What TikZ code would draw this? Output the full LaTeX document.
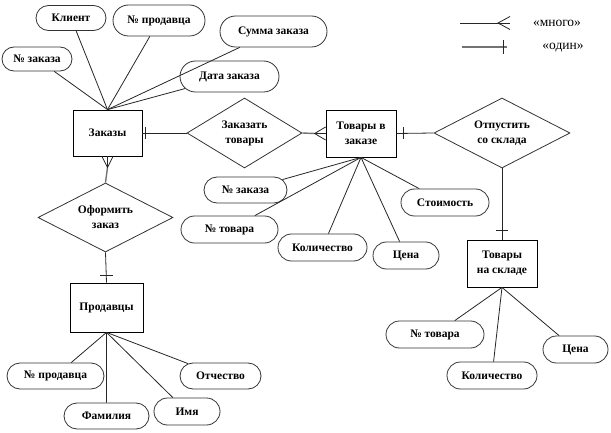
\documentclass[tikz,border=0pt]{standalone}
\usepackage{fontspec}
\setmainfont{Liberation Serif}
\usetikzlibrary{shapes.geometric,shapes.misc}
\begin{document}
\begin{tikzpicture}[x=1pt,y=-1pt,
  lbl/.style={font=\fontsize{11.5}{15}\selectfont\bfseries},
  attr/.style={rounded rectangle, draw=black!80, line width=0.8pt, inner sep=0pt, lbl, minimum height=27pt},
  ent/.style={rectangle, draw=black, line width=0.8pt, inner sep=0pt, lbl, align=center},
  rel/.style={diamond, draw=black!80, line width=0.8pt, inner sep=0pt, aspect=2, lbl, align=center},
  con/.style={draw=black!85, line width=0.8pt},
  gcon/.style={draw=black!55, line width=1.4pt},
  leg/.style={font=\fontsize{13.5}{15}\selectfont}
]
\useasboundingbox (0,0) rectangle (611,433);

% entities
\node[ent, minimum width=69pt, minimum height=46pt] (zak) at (107.5,133) {Заказы};
\node[ent, minimum width=70pt, minimum height=47pt] (tvz) at (361,133.5) {Товары в\\заказе};
\node[ent, minimum width=70pt, minimum height=47pt] (tns) at (502,263.5) {Товары\\на складе};
\node[ent, minimum width=73pt, minimum height=49pt] (prod) at (106.5,307.5) {Продавцы};

% relationships
\node[rel, minimum width=115pt, minimum height=70pt] (zt) at (244.5,133) {Заказать\\товары};
\node[rel, minimum width=136pt, minimum height=70pt] (ots) at (502,133) {Отпустить\\со склада};
\node[rel, minimum width=135pt, minimum height=69pt] (ofz) at (105.5,217.5) {Оформить\\заказ};

% attributes of Заказы
\node[attr, minimum width=70pt, minimum height=25pt] (a1) at (71,18) {Клиент};
\node[attr, minimum width=92pt, minimum height=31pt] (a2) at (159,20.5) {№ продавца};
\node[attr, minimum width=107pt, minimum height=31pt] (a3) at (273.5,31.5) {Сумма заказа};
\node[attr, minimum width=70pt, minimum height=24pt] (a4) at (37,59) {№ заказа};
\node[attr, minimum width=99pt, minimum height=31pt] (a5) at (229.5,76.5) {Дата заказа};

% attributes of Товары в заказе
\node[attr, minimum width=83pt, minimum height=26pt] (b1) at (245.5,190) {№ заказа};
\node[attr, minimum width=97pt] (b2) at (229.5,229.5) {№ товара};
\node[attr, minimum width=89pt] (b3) at (322.5,247.5) {Количество};
\node[attr, minimum width=66pt] (b4) at (406,255.5) {Цена};
\node[attr, minimum width=88pt] (b5) at (445,202.5) {Стоимость};

% attributes of Товары на складе
\node[attr, minimum width=98pt] (c1) at (435,334.5) {№ товара};
\node[attr, minimum width=90pt] (c2) at (492,375.5) {Количество};
\node[attr, minimum width=65pt] (c3) at (575.5,349.5) {Цена};

% attributes of Продавцы
\node[attr, minimum width=97pt, minimum height=26pt] (d1) at (55.5,376) {№ продавца};
\node[attr, minimum width=85pt, minimum height=26pt] (d2) at (106.5,416) {Фамилия};
\node[attr, minimum width=66pt] (d3) at (187,411.5) {Имя};
\node[attr, minimum width=81pt, minimum height=26pt] (d4) at (220.5,376) {Отчество};

% attribute connectors
\foreach \a in {a1,a2,a3,a4,a5} \draw[con] (zak.north) -- (\a);
\foreach \b in {b1,b2,b3,b4,b5} \draw[con] (tvz.south) -- (\b);
\foreach \c in {c1,c2,c3} \draw[con] (tns.south) -- (\c);
\foreach \d in {d1,d2,d3,d4} \draw[con] (prod.south) -- (\d);

% Заказы -- Заказать товары (one)
\draw[con] (zak.east) -- (zt.west);
\draw[con] ([xshift=3pt]zak.east) ++(0,-6) -- ++(0,12);

% Заказать товары -- Товары в заказе (many)
\draw[gcon] (zt.east) -- ([xshift=-11pt]tvz.west);
\draw[con] ([xshift=-11pt]tvz.west) -- (tvz.west);
\draw[con] ([yshift=6.5pt]tvz.west) -- ([xshift=-11pt]tvz.west) -- ([yshift=-6.5pt]tvz.west);

% Товары в заказе -- Отпустить со склада (one)
\draw[con] (tvz.east) -- (ots.west);
\draw[con] ([xshift=7pt]tvz.east) ++(0,-6) -- ++(0,12);

% Отпустить со склада -- Товары на складе (one)
\draw[con] (ots.south) -- (tns.north);
\draw[con] ([yshift=9pt]tns.north) ++(-6,0) -- ++(12,0);

% Заказы -- Оформить заказ (many)
\draw[gcon] (ofz.north) -- ([yshift=-11pt]zak.south);
\draw[con] ([yshift=-11pt]zak.south) -- (zak.south);
\draw[con] ([xshift=-5.5pt]zak.south) -- ([yshift=-11pt]zak.south) -- ([xshift=5.5pt]zak.south);

% Оформить заказ -- Продавцы (one)
\draw[con] (ofz.south) -- (prod.north);
\draw[con] ([yshift=7pt]prod.north) ++(-6.5,0) -- ++(13,0);

% legend
\coordinate (m1) at (460,23);
\coordinate (m2) at (510,23);
\coordinate (m3) at (498,23);
\draw[con] (m1) -- (m2);
\draw[con] ([yshift=6.5pt]m2) -- (m3) -- ([yshift=-6.5pt]m2);
\node[leg] (lm) at (557,23) {«много»};
\coordinate (o1) at (462,47);
\coordinate (o2) at (507,47);
\coordinate (o3) at (503,47);
\draw[gcon] (o1) -- (o2);
\draw[con] (o3) ++(0,-7) -- ++(0,14);
\node[leg] (lo) at (563,48) {«один»};
\end{tikzpicture}
\end{document}
